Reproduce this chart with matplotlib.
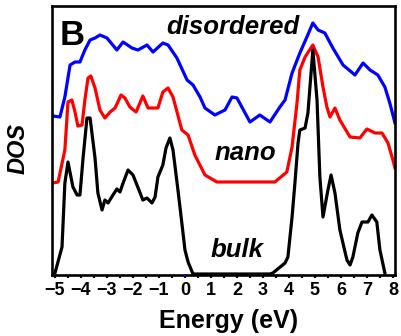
import matplotlib
matplotlib.use("Agg")
import matplotlib.pyplot as plt
from matplotlib.ticker import MultipleLocator

plt.rcParams['font.family'] = ['Liberation Sans', 'DejaVu Sans']

# DOS curves, already stacked with their vertical offsets (arb. units)
e_dis = [-5.08, -4.81, -4.62, -4.42, -4.23, -4.04, -3.85, -3.65, -3.46, -3.27,
         -3.00, -2.62, -2.38, -2.04, -1.81, -1.46, -1.23, -0.85, -0.65, -0.31,
         0.08, 0.31, 0.58, 0.77, 1.15, 1.54, 1.81, 2.00, 2.50, 2.88,
         3.27, 3.65, 3.85, 4.12, 4.42, 4.69, 4.92, 5.12, 5.38, 5.69,
         6.08, 6.54, 6.85, 7.12, 7.42, 7.69, 7.88, 8.08]
dos_dis = [1.59, 1.58, 1.78, 2.10, 2.13, 2.13, 2.25, 2.35, 2.37, 2.40,
           2.37, 2.25, 2.33, 2.27, 2.25, 2.30, 2.23, 2.32, 2.30, 2.17,
           1.95, 1.90, 1.78, 1.67, 1.60, 1.65, 1.78, 1.77, 1.53, 1.60,
           1.53, 1.68, 1.75, 2.02, 2.22, 2.38, 2.52, 2.45, 2.42, 2.27,
           2.10, 2.00, 2.12, 2.05, 2.00, 1.88, 1.72, 1.52]

e_nano = [-5.08, -4.88, -4.62, -4.50, -4.35, -4.23, -4.12, -3.96, -3.85, -3.73,
          -3.62, -3.46, -3.27, -3.08, -2.88, -2.69, -2.46, -2.31, -2.12, -1.88,
          -1.62, -1.42, -1.04, -0.85, -0.65, -0.46, -0.12, 0.12, 0.38, 0.77,
          1.23, 3.46, 3.92, 4.12, 4.31, 4.42, 4.62, 4.92, 5.12, 5.31,
          5.46, 5.58, 5.77, 5.96, 6.35, 6.73, 7.00, 7.31, 7.58, 7.81,
          8.00, 8.08]
dos_nano = [0.92, 0.93, 1.25, 1.73, 1.75, 1.63, 1.49, 1.50, 1.75, 1.97,
            1.99, 1.87, 1.65, 1.57, 1.63, 1.67, 1.80, 1.77, 1.68, 1.63,
            1.79, 1.67, 1.67, 1.83, 1.87, 1.78, 1.45, 1.40, 1.20, 1.00,
            0.93, 0.93, 1.03, 1.28, 1.72, 2.05, 2.18, 2.30, 2.18, 1.88,
            1.68, 1.58, 1.67, 1.55, 1.38, 1.37, 1.46, 1.42, 1.42, 1.32,
            1.15, 1.07]

e_bulk = [-5.00, -4.73, -4.62, -4.50, -4.31, -4.15, -4.04, -3.92, -3.77, -3.65,
          -3.46, -3.35, -3.19, -3.08, -2.96, -2.77, -2.62, -2.50, -2.38, -2.19,
          -2.00, -1.77, -1.62, -1.46, -1.27, -1.15, -1.04, -0.85, -0.73, -0.58,
          -0.46, -0.27, -0.12, 0.00, 0.12, 0.31, 3.27, 3.38, 3.85, 3.96,
          4.12, 4.23, 4.35, 4.42, 4.62, 4.73, 4.92, 5.08, 5.19, 5.31,
          5.50, 5.62, 5.77, 5.96, 6.23, 6.35, 6.46, 6.65, 6.81, 7.04,
          7.19, 7.38, 7.50, 7.69]
dos_bulk = [0.02, 0.28, 0.92, 1.13, 0.88, 0.80, 0.80, 1.17, 1.57, 1.57,
            1.17, 0.82, 0.65, 0.75, 0.72, 0.80, 0.86, 0.83, 0.92, 1.05,
            1.00, 0.85, 0.75, 0.77, 0.72, 0.78, 0.98, 1.10, 1.27, 1.37,
            1.25, 0.85, 0.52, 0.25, 0.13, 0.01, 0.01, 0.02, 0.12, 0.18,
            0.58, 0.92, 1.32, 1.45, 1.47, 1.62, 2.25, 1.75, 0.98, 0.58,
            0.85, 1.00, 0.82, 0.45, 0.15, 0.10, 0.18, 0.42, 0.53, 0.53,
            0.60, 0.53, 0.25, 0.02]

fig = plt.figure(figsize=(4.01, 3.36), dpi=100)
ax = fig.add_axes([52 / 401, 61 / 336, 343 / 401, 269 / 336])

lw = 2.3
ax.plot(e_dis, dos_dis, color='#0000ff', lw=lw, solid_joinstyle='round')
ax.plot(e_nano, dos_nano, color='#ff0000', lw=lw, solid_joinstyle='round')
ax.plot(e_bulk, dos_bulk, color='black', lw=lw, solid_joinstyle='round')
# Fermi level marker
ax.plot([0], [0], 's', color='#0000ff', ms=1.8, mew=0, clip_on=False, zorder=5)

ax.set_xlim(-5.115, 8.08)
ax.set_ylim(0, 2.69)

for sp in ax.spines.values():
    sp.set_linewidth(1.9)

ax.xaxis.set_major_locator(MultipleLocator(1))
ax.xaxis.set_minor_locator(MultipleLocator(0.5))
ax.tick_params(axis='x', which='both', direction='out', length=2.5, width=1.6,
               pad=2.5, labelsize=13)
ax.set_yticks([])
for lab in ax.get_xticklabels():
    lab.set_fontweight('bold')

lbl = dict(fontsize=18.5, fontweight='bold', style='italic', ha='center', va='baseline')
ax.text(1.85, 2.41, 'disordered', **lbl)
ax.text(2.31, 1.15, 'nano', **lbl)
ax.text(2.00, 0.18, 'bulk', **lbl)

fig.text(60 / 401, 1 - 45 / 336, 'B', fontsize=25, fontweight='bold',
         ha='left', va='baseline')
fig.text(18 / 401, 1 - 148 / 336, 'DOS', fontsize=17, fontweight='bold',
         style='italic', rotation=90, ha='center', va='center')
fig.text(229 / 401, 8 / 336, 'Energy (eV)', fontsize=18, fontweight='bold',
         ha='center', va='baseline')

fig.savefig('out.png', dpi=100)
